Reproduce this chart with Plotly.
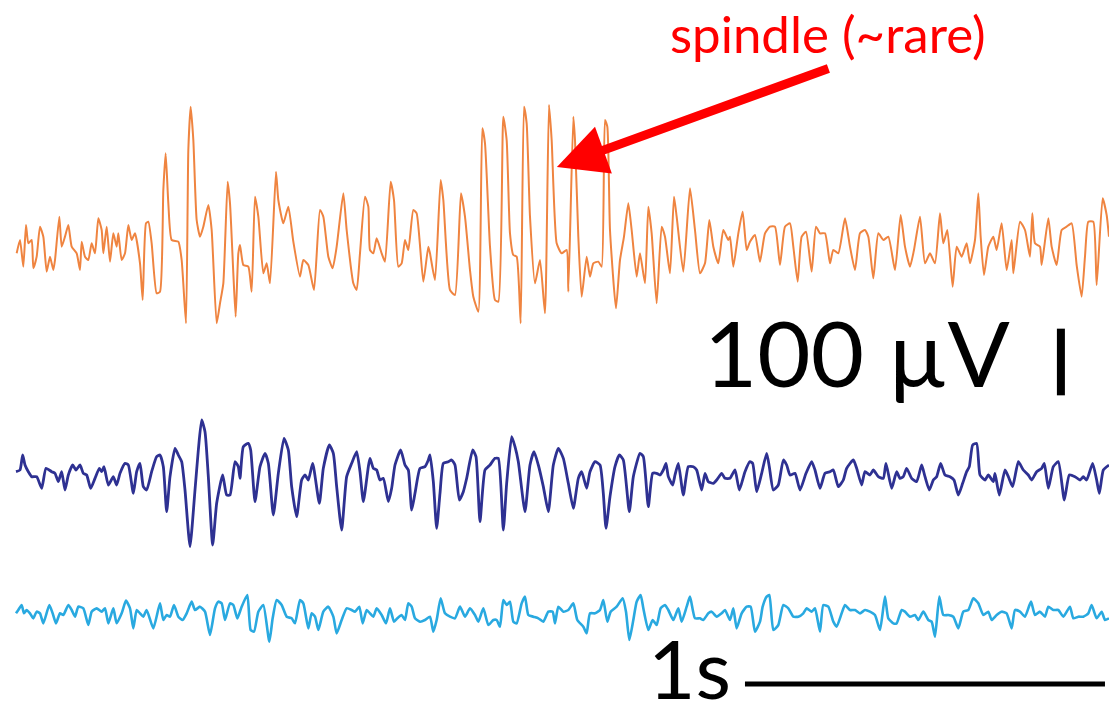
import numpy as np
import plotly.graph_objects as go

# Sampling rate of the time index (samples per second)
FS = 1080

# Channel 1 (orange): (sample index, amplitude in µV)
CH1 = [
    (50,-5),(60,15),(70,-25),(78,37.5),(85,10),(95,15),(100,-27.5),(110,-10),(120,35),(130,20),
    (140,-32.5),(150,-10),(160,-30),(165,-15),(178,50),(185,5),(195,20),(205,37.5),(215,5),(230,-5),
    (240,-30),(245,12.5),(255,-10),(265,-15),(275,10),(285,-5),(295,47.5),(305,30),(310,-5),(320,35),
    (330,-17.5),(340,25),(350,5),(355,25),(365,-15),(375,-5),(385,37.5),(395,15),(405,25),(420,-20),
    (428,-75),(438,40),(445,42.5),(455,10),(470,-65),(480,-62.5),(490,90),(497,145),(505,70),(515,15),
    (535,12.5),(545,-15),(558,-110),(565,150),(572,215),(580,165),(590,45),(600,20),(610,35),(625,67.5),
    (635,30),(650,-110),(660,-80),(670,-50),(683,102.5),(690,70),(700,-35),(707,-100),(715,-5),(720,7.5),
    (730,-22.5),(745,-25),(755,-62.5),(765,80),(775,50),(790,-35),(800,-20),(810,-50),(828,117.5),(835,75),
    (850,40),(865,65),(880,12.5),(900,-40),(910,-15),(925,-22.5),(942,-60),(960,60),(970,50),(985,-10),
    (998,-27.5),(1010,5),(1030,85),(1040,30),(1060,-50),(1070,-60),(1080,-5),(1095,80),(1105,65),
    (1110,0),(1120,-5),(1130,17.5),(1145,-5),(1155,-17.5),(1172,102.5),(1182,75),(1195,-25),(1205,-20),(1215,15),
    (1225,0),(1240,60),(1250,55),(1270,-47.5),(1285,5),(1290,-5),(1305,-45),(1322,105),(1330,75),(1350,-60),
    (1365,-67.5),(1383,85),(1395,50),(1410,-30),(1420,-70),(1435,-92.5),(1447,182.5),(1455,160),(1470,5),(1485,-75),
    (1495,-77.5),(1510,200),(1520,165),(1530,25),(1540,-7.5),(1550,-10),(1562,-110),(1572,215),(1580,190),(1590,50),
    (1605,-50),(1620,-15),(1635,-95),(1647,217.5),(1655,165),(1670,10),(1685,-5),(1700,0),(1705,-62.5),(1720,200),
    (1725,165),(1735,20),(1745,-70),(1760,-10),(1770,-40),(1780,-20),(1795,-17.5),(1805,-25),(1815,195),(1822,185),
    (1830,30),(1848,-87.5),(1860,-15),(1872,20),(1885,70),(1895,30),(1910,-40),(1920,-5),(1935,-50),(1945,65),
    (1955,25),(1970,-80),(1985,35),(1995,20),(2010,-35),(2022,80),(2030,50),(2050,-32.5),(2070,92.5),(2085,30),
    (2100,-35),(2115,-20),(2128,45),(2140,5),(2155,-20),(2170,30),(2185,15),
    (2190,20),(2200,-25),(2215,25),(2228,57.5),(2240,0),(2250,12.5),(2265,22.5),(2280,-17.5),(2295,25),(2310,35),
    (2325,35),(2340,-22.5),(2355,35),(2370,40),(2380,5),(2393,-47.5),(2405,20),(2418,27.5),(2435,-32.5),(2448,35),
    (2460,25),(2475,25),(2490,-20),(2500,0),(2515,-5),(2535,47.5),(2550,5),(2565,-30),(2580,25),(2595,30),
    (2605,20),(2620,-42.5),(2635,25),(2650,15),(2665,20),(2685,-30),(2702,52.5),(2715,5),(2730,-25),(2742,0),
    (2760,50),(2775,-20),(2790,-5),(2805,-20),(2820,55),(2830,10),(2842,30),(2858,-55),(2870,5),(2885,-10),
    (2900,10),(2910,-20),(2925,15),(2935,85),(2942,20),(2952,-37.5),(2965,5),(2980,20),(2990,0),(3005,40),
    (3020,-30),(3035,15),(3040,-35),(3060,42.5),(3075,30),(3090,-10),(3097,55),(3105,10),(3120,5),(3125,-22.5),
    (3145,47.5),(3155,5),(3170,-22.5),(3185,30),(3200,35),(3215,40),(3230,-22.5),(3245,-70),(3255,-10),(3265,42.5),
    (3280,42.5),(3290,-52.5),(3308,77.5),(3320,52.5),(3327,20),
]

# Channel 2 (navy): (sample index, amplitude in µV)
CH2 = [
    (48,-10),(60,-7.5),(68,15),(75,0),(85,-10),(95,-17.5),(110,-17.5),(125,-35),(138,-5),(155,-10),
    (165,-12.5),(175,-25),(185,-10),(195,-37.5),(205,-15),(218,0),(228,-7.5),(240,0),(250,-12.5),(260,-15),
    (272,-35),(285,-20),(298,-5),(305,-10),(312,-2.5),(325,-30),(340,-17.5),(350,-30),(360,-12.5),(375,2.5),
    (385,0),(400,-42.5),(410,-10),(420,2.5),(430,-32.5),(440,-37.5),(455,-10),(470,12.5),(480,15),(490,-2.5),
    (500,-70),(510,-17.5),(525,25),(535,15),(545,5),(555,-37.5),(570,-122.5),(585,-37.5),(595,22.5),(605,67.5),
    (615,50),(625,-17.5),(638,-120),(650,-57.5),(668,-15),(680,-45),(690,-45),(705,5),(715,-2.5),(720,-20),
    (730,27.5),(745,32.5),(752,22.5),(765,-55),(780,-2.5),(795,17.5),(805,2.5),(820,-75),(835,-12.5),(852,40),
    (865,22.5),(875,-32.5),(890,-77.5),(905,-22.5),(915,-15),(925,-22.5),(938,2.5),(958,-57.5),(970,-5),(988,30),
    (1000,17.5),(1010,-32.5),(1025,-97.5),(1040,-17.5),(1055,2.5),(1070,20),(1080,-10),(1090,-55),(1105,-2.5),
    (1110,10),(1120,-5),(1130,-7.5),(1140,-22.5),(1150,-20),(1165,-55),(1175,-35),(1185,0),(1202,22.5),(1215,0),
    (1225,-7.5),(1235,-67.5),(1245,-42.5),(1260,-5),(1275,-2.5),(1285,7.5),(1290,15),(1300,-25),(1310,-95),(1320,-42.5),
    (1330,2.5),(1345,5),(1355,7.5),(1365,0),(1378,-52.5),(1390,-40),(1400,-20),(1418,22.5),(1428,12.5),(1440,-85),
    (1455,-7.5),(1470,0),(1485,10),(1495,10),(1510,-97.5),(1520,-27.5),(1535,42.5),(1545,27.5),(1555,5),(1575,-70),
    (1590,0),(1602,20),(1615,0),(1630,-32.5),(1645,-70),(1660,0),(1675,25),(1690,10),(1705,-27.5),(1720,-65),
    (1735,-20),(1745,-10),(1760,-35),(1770,-10),(1785,5),(1800,0),(1810,-42.5),(1818,-95),(1830,-47.5),(1845,-2.5),
    (1858,15),(1870,7.5),(1888,-70),(1900,-17.5),(1920,17.5),(1930,12.5),(1945,-62.5),(1958,-12.5),(1970,-12.5),(1980,-15),
    (1990,-7.5),(1998,2.5),(2005,-17.5),(2018,-30),(2025,-15),(2035,2.5),(2050,-45),(2065,-2.5),(2080,-2.5),(2090,-7.5),
    (2105,-37.5),(2115,-12.5),(2125,-25),(2140,-27.5),(2150,-22.5),(2165,-12.5),(2175,-20),
    (2190,-20),(2205,-7.5),(2218,-37.5),(2235,-10),(2250,5),(2258,2.5),(2270,-40),(2285,-12.5),(2300,17.5),(2308,-2.5),
    (2320,-37.5),(2335,-30),(2350,7.5),(2360,0),(2370,-15),(2385,-12.5),(2400,-37.5),(2418,-12.5),(2435,5),(2445,-7.5),
    (2460,-35),(2475,-12.5),(2490,-10),(2500,-7.5),(2515,-32.5),(2530,-22.5),(2540,-5),(2560,7.5),(2570,-5),(2585,-30),
    (2595,-10),(2610,-15),(2620,-7.5),(2635,-17.5),(2650,-20),(2658,2.5),(2675,-35),(2690,-10),(2700,-20),(2710,-17.5),
    (2720,-5),(2735,-20),(2750,-25),(2765,0),(2775,-17.5),(2788,-37.5),(2800,-22.5),(2810,-17.5),(2822,2.5),(2835,-15),
    (2850,-17.5),(2862,-22.5),(2875,-45),(2888,-27.5),(2900,-10),(2908,-2.5),(2918,30),(2930,32.5),(2940,-15),(2955,-22.5),
    (2965,-15),(2980,-25),(2985,-12.5),(2998,-45),(3015,-7.5),(3025,-17.5),(3038,-32.5),(3055,5),(3070,-7.5),(3085,-15),
    (3095,-22.5),(3110,-10),(3125,-5),(3133,2.5),(3145,-35),(3160,-2.5),(3175,5),(3193,-52.5),(3208,-15),(3225,-17.5),
    (3240,-22.5),(3250,-17.5),(3260,-22.5),(3278,2.5),(3290,-22.5),(3298,-42.5),(3310,-7.5),(3327,0),
]

# Channel 3 (light blue): (sample index, amplitude in µV)
CH3 = [
    (48,0),(55,5),(65,12.5),(72,0),(80,5),(90,0),(100,-7.5),(110,2.5),(120,0),(130,-15),
    (148,12.5),(158,0),(168,-15),(180,0),(190,-2.5),(205,12.5),(215,5),(225,-5),(235,10),(250,7.5),
    (265,-17.5),(275,2.5),(290,7.5),(305,2.5),(315,7.5),(325,-15),(340,7.5),(350,-15),(365,0),(378,19),
    (390,7.5),(400,-22.5),(410,5),(420,0),(430,-5),(440,5),(460,-22.5),(480,15),(490,-10),(500,-2.5),
    (510,-5),(522,12.5),(535,-5),(548,-10),(560,0),(575,17.5),(585,5),(600,10),(615,2.5),(630,-32.5),
    (645,7.5),(655,17.5),(665,15),(675,-10),(690,15),(700,12.5),(712,-7.5),(725,10),(742,27.5),(752,-25),
    (762,-27.5),(775,2.5),(790,12.5),(808,-42.5),(818,-7.5),(830,20),(845,12.5),(860,-5),(875,-7.5),(885,-15),
    (900,20),(910,15),(925,-22.5),(935,0),(945,-5),(955,-25),(970,2.5),(985,10),(1000,-5),(1010,-30),
    (1025,-10),(1040,7.5),(1055,5),(1065,2.5),(1078,10),(1088,-15),(1100,5),
    (1110,0),(1120,-5),(1130,7.5),(1145,-2.5),(1158,-15),(1170,7.5),(1182,-12.5),(1192,-7.5),(1205,-2.5),(1215,-10),
    (1225,15),(1235,10),(1245,-7.5),(1260,-12.5),(1275,-10),(1290,-5),(1300,-27.5),(1310,-10),(1322,22.5),(1335,0),
    (1350,-5),(1365,-7.5),(1380,10),(1395,-5),(1410,7.5),(1425,-2.5),(1435,-12.5),(1450,7.5),(1465,-17.5),(1480,-10),
    (1490,-10),(1500,-20),(1510,20),(1520,12.5),(1530,17.5),(1540,-12.5),(1550,-15),(1565,15),(1575,25),(1585,-2.5),
    (1600,-5),(1615,-7.5),(1630,-12.5),(1645,2.5),(1658,2.5),(1665,-15),(1675,10),(1690,2.5),(1705,5),(1720,15),
    (1732,-10),(1750,-20),(1760,-30),(1770,0),(1785,0),(1800,5),(1810,20),(1822,-12.5),(1832,2.5),(1850,10),
    (1868,22.5),(1878,2.5),(1888,-40),(1900,-10),(1910,17.5),(1922,27.5),(1930,7.5),(1945,-25),(1958,-10),(1970,-17.5),
    (1982,7.5),(1995,12.5),(2005,5),(2020,-10),(2035,7.5),(2045,-12.5),(2060,10),(2070,25),(2085,-7.5),(2100,-7.5),
    (2110,-10),(2125,0),(2135,2.5),(2150,-5),(2165,0),(2175,5),
    (2190,-10),(2200,7.5),(2210,-22.5),(2225,0),(2240,10),(2252,10),(2265,-27.5),(2280,-12.5),(2288,10),(2300,25),
    (2308,27.5),(2320,-25),(2335,-17.5),(2350,12.5),(2365,7.5),(2380,-5),(2395,-5),(2410,0),(2420,7.5),(2435,2.5),
    (2445,7.5),(2460,-27.5),(2470,12.5),(2485,10),(2500,-12.5),(2510,-20),(2525,0),(2535,12.5),(2550,5),(2565,5),
    (2580,0),(2595,5),(2610,2.5),(2625,-2.5),(2640,-25),(2655,25),(2665,-7.5),(2680,-15),(2690,-15),(2705,5),
    (2715,2.5),(2730,-5),(2745,-2.5),(2755,-10),(2770,2.5),(2785,-10),(2795,-12.5),(2805,-35),(2818,25),(2830,-2.5),
    (2845,-2.5),(2860,-5),(2875,-22.5),(2890,2.5),(2905,5),(2920,22.5),(2935,15),(2950,-2.5),(2965,2.5),(2975,-10),
    (2990,-2.5),(3005,2.5),(3020,0),(3035,-22.5),(3045,5),(3060,2.5),(3075,-5),(3093,17.5),(3105,-2.5),(3120,2.5),
    (3135,-5),(3145,10),(3160,5),(3175,5),(3190,-5),(3210,10),(3220,-7.5),(3235,-5),(3250,-5),(3265,0),
    (3275,12.5),(3290,-7.5),(3305,2.5),(3315,-10),(3327,-7.5),
]

# Layout constants (vertical offsets of each channel, in µV on the stacked axis)
OFFSETS = [703.5, 381.0, 158.5]
COLORS = ["#EF8440", "#2E3192", "#29A9E0"]
WIDTHS = [2.0, 2.8, 2.6]

Y_RANGE = [0, 1078.5]
X_RANGE = [0, 3.0806]

fig = go.Figure()
for data, off, col, w in zip([CH1, CH2, CH3], OFFSETS, COLORS, WIDTHS):
    n = np.array([p[0] for p in data], dtype=float)
    v = np.array([p[1] for p in data], dtype=float)
    fig.add_trace(go.Scatter(x=n / FS, y=v + off, mode="lines",
                             line=dict(color=col, width=w, shape="spline", smoothing=0.5),
                             hoverinfo="skip"))

# Scale bars: 100 µV vertical, 1 s horizontal
VBAR_X = 2.947
VBAR_MID = 535.5
HBAR_START = 2.0694
HBAR_Y = 52.5
fig.add_shape(type="line", xref="x", yref="y", x0=VBAR_X, x1=VBAR_X,
              y0=VBAR_MID - 50, y1=VBAR_MID + 50, line=dict(color="black", width=8))
fig.add_shape(type="line", xref="x", yref="y", x0=HBAR_START, x1=HBAR_START + 1.0,
              y0=HBAR_Y, y1=HBAR_Y, line=dict(color="black", width=5))

FONT = "Lato, 'Open Sans', sans-serif"
fig.add_annotation(xref="x", yref="y", x=2.81, y=551, text="100 µV",
                   showarrow=False, xanchor="right", yanchor="middle",
                   font=dict(family=FONT, size=92, color="black"))
fig.add_annotation(xref="x", yref="y", x=2.035, y=1.5, text="1s",
                   showarrow=False, xanchor="right", yanchor="bottom",
                   font=dict(family=FONT, size=82, color="black"))
fig.add_annotation(xref="x", yref="y", x=2.30, y=1028, text="spindle (~rare)",
                   showarrow=False, xanchor="center", yanchor="middle",
                   font=dict(family=FONT, size=51, color="#FF0000"))
# Arrow pointing at the spindle
fig.add_annotation(xref="x", yref="y", x=1.547, y=828, text="",
                   showarrow=True, ax=273, ay=-99, arrowhead=2, arrowsize=1.1,
                   arrowwidth=9, arrowcolor="#FF0000", standoff=0)

fig.update_layout(
    width=1109, height=719,
    margin=dict(l=0, r=0, t=0, b=0),
    paper_bgcolor="white", plot_bgcolor="white",
    showlegend=False,
    xaxis=dict(range=X_RANGE, visible=False, fixedrange=True),
    yaxis=dict(range=Y_RANGE, visible=False, fixedrange=True),
)

fig.write_html("out.html",
               config={"displayModeBar": False, "staticPlot": True},
               post_script="document.body.style.margin='0px';document.body.style.overflow='hidden';")
